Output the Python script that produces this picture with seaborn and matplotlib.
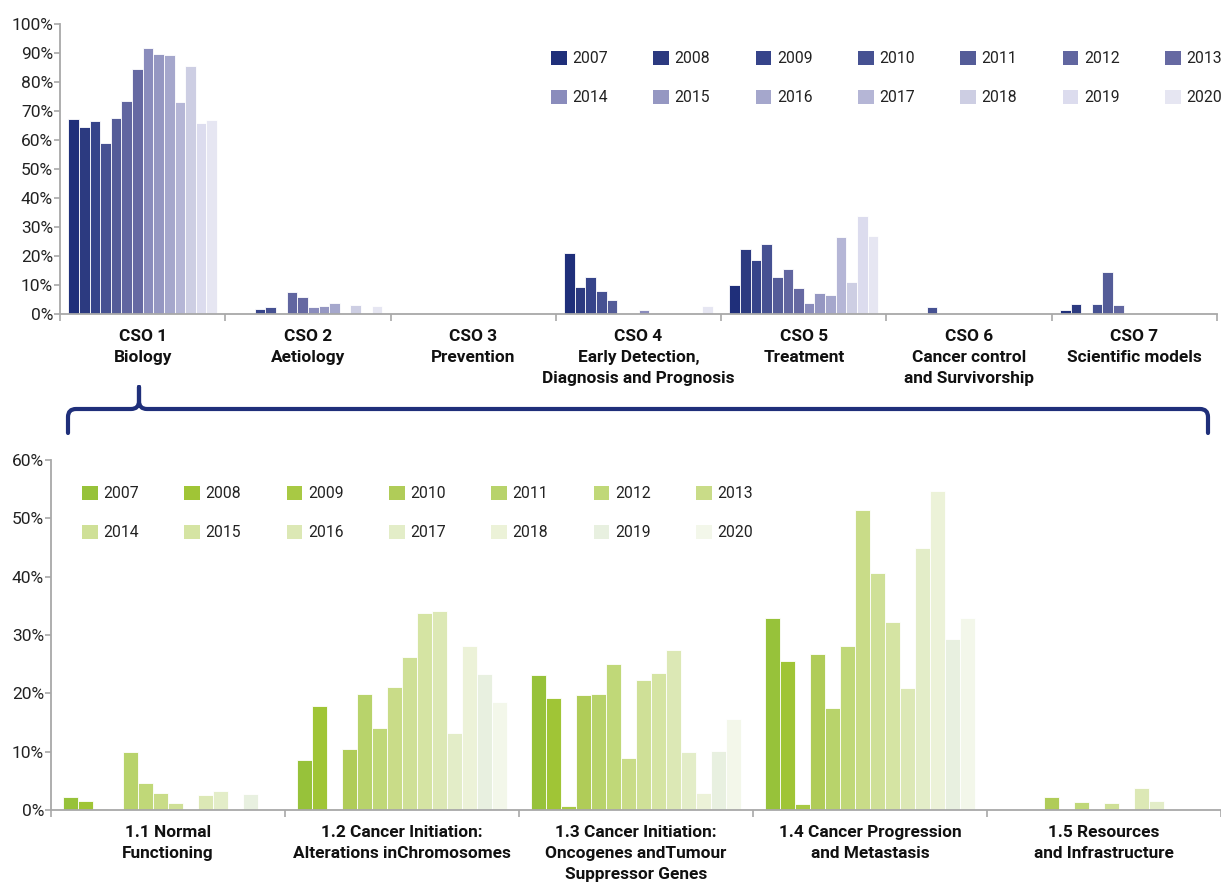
import numpy as np
import pandas as pd
import matplotlib
matplotlib.use('Agg')
import matplotlib.pyplot as plt
import seaborn as sns
from matplotlib.patches import Patch, PathPatch
from matplotlib.path import Path
from matplotlib.ticker import PercentFormatter

sns.set_theme(style='ticks')
plt.rcParams['font.family'] = ['Roboto', 'DejaVu Sans']

# ---- data -------------------------------------------------------------
years = [str(y) for y in range(2007, 2021)]

cso_labels = ['CSO 1\nBiology', 'CSO 2\nAetiology', 'CSO 3\nPrevention',
              'CSO 4\nEarly Detection,\nDiagnosis and Prognosis', 'CSO 5\nTreatment',
              'CSO 6\nCancer control\nand Survivorship', 'CSO 7\nScientific models']
cso1 = [67.3, 64.5, 66.4, 59.1, 67.5, 73.3, 84.6, 91.8, 89.5, 89.3, 73.1, 85.6, 65.9, 66.8]
cso2 = [0, 0, 1.7, 2.3, 0, 7.7, 6.0, 2.5, 2.9, 3.8, 0, 3.1, 0, 2.8]
cso3 = [0, 0, 0, 0, 0, 0, 0, 0, 0, 0, 0, 0, 0, 0]
cso4 = [21.1, 9.3, 12.8, 8.0, 4.9, 0, 0, 1.3, 0, 0, 0, 0, 0, 2.8]
cso5 = [9.9, 22.5, 18.5, 24.3, 12.6, 15.5, 9.1, 3.8, 7.2, 6.6, 26.6, 10.9, 33.7, 26.9]
cso6 = [0, 0, 0, 2.3, 0, 0, 0, 0, 0, 0, 0, 0, 0, 0]
cso7 = [1.3, 3.3, 0, 3.4, 14.5, 3.1, 0, 0, 0, 0, 0, 0, 0, 0]

bio_labels = ['1.1 Normal\nFunctioning', '1.2 Cancer Initiation:\nAlterations inChromosomes',
              '1.3 Cancer Initiation:\nOncogenes andTumour\nSuppressor Genes',
              '1.4 Cancer Progression\nand Metastasis', '1.5 Resources\nand Infrastructure']
bio11 = [2.3, 1.5, 0.2, 0, 9.9, 4.6, 2.9, 1.2, 0, 2.5, 3.3, 0, 2.8, 0]
bio12 = [8.6, 17.9, 0.2, 10.4, 19.9, 14.0, 21.1, 26.2, 33.8, 34.2, 13.2, 28.1, 23.4, 18.6]
bio13 = [23.1, 19.2, 0.7, 19.7, 19.9, 25.0, 9.0, 22.3, 23.5, 27.5, 9.9, 3.0, 10.2, 15.6]
bio14 = [32.9, 25.5, 1.1, 26.7, 17.5, 28.1, 51.5, 40.7, 32.3, 20.9, 45.0, 54.7, 29.3, 32.9]
bio15 = [0, 0, 0, 2.2, 0, 1.4, 0, 1.2, 0, 3.8, 1.5, 0, 0, 0]

blues = ['#1f2f7a', '#2c3a80', '#36448a', '#465192', '#545c98', '#6166a0', '#6669a2',
         '#8a8cbc', '#9597c2', '#a5a7cc', '#b5b6d6', '#cdcee3', '#dcdcee', '#e6e6f2']
greens = ['#97c23a', '#a0c536', '#a8c944', '#b0cc58', '#b8d36b', '#c0d878', '#c9dc88',
          '#cfe097', '#d5e4a3', '#dce8b5', '#e3edc8', '#ecf2d8', '#e8f0e0', '#f3f7ea']

top_df = pd.DataFrame({'cat': np.repeat(cso_labels, len(years)),
                       'year': years * len(cso_labels),
                       'value': np.concatenate([cso1, cso2, cso3, cso4, cso5, cso6, cso7])})
bot_df = pd.DataFrame({'cat': np.repeat(bio_labels, len(years)),
                       'year': years * len(bio_labels),
                       'value': np.concatenate([bio11, bio12, bio13, bio14, bio15])})

W, H = 1221, 884
fig = plt.figure(figsize=(W / 100, H / 100), dpi=100)
ax1 = fig.add_axes([60 / W, 1 - 314 / H, (1217 - 60) / W, 290 / H])
ax2 = fig.add_axes([51 / W, 1 - 810 / H, (1221 - 51) / W, 350 / H])

grey = '#a8a8a8'
txt = '#222222'


def draw(ax, df, cats, pal, ymax, step):
    sns.barplot(data=df, x='cat', y='value', hue='year', order=cats, hue_order=years,
                palette=pal, saturation=1, width=0.9, errorbar=None,
                edgecolor='white', linewidth=0.6, legend=False, ax=ax)
    ax.set_xlim(-0.5, len(cats) - 0.5)
    ax.set_ylim(0, ymax)
    ax.set_yticks(np.arange(0, ymax + 1, step))
    ax.yaxis.set_major_formatter(PercentFormatter(100, decimals=0))
    ax.set_xticks(np.arange(-0.5, len(cats)), minor=True)
    ax.set_xticks(np.arange(len(cats)))
    ax.set_xticklabels(cats, fontweight='bold', fontsize=12.4, linespacing=1.5, color='#111111')
    ax.tick_params(axis='x', which='major', length=0, pad=11)
    ax.tick_params(axis='x', which='minor', length=5, width=1.2, color=grey)
    ax.tick_params(axis='y', length=4, width=1.2, color=grey, labelsize=12.5, labelcolor=txt, pad=1)
    ax.set_xlabel('')
    ax.set_ylabel('')
    for s in ['top', 'right']:
        ax.spines[s].set_visible(False)
    for s in ['left', 'bottom']:
        ax.spines[s].set_color(grey)
        ax.spines[s].set_linewidth(1.3)


draw(ax1, top_df, cso_labels, blues, 100, 10)
draw(ax2, bot_df, bio_labels, greens, 60, 10)


def legend(pal, x, y):
    order = [i + r * 7 for i in range(7) for r in range(2)]
    handles = [Patch(facecolor=pal[i], edgecolor='none') for i in order]
    labels = [years[i] for i in order]
    fig.legend(handles, labels, ncol=7, loc='upper left', bbox_to_anchor=(x / W, 1 - y / H),
               frameon=False, fontsize=11.3, handlelength=1.0, handleheight=1.0,
               handletextpad=0.35, columnspacing=2.9, labelspacing=1.5,
               borderpad=0, borderaxespad=0, labelcolor=txt)


legend(blues, 551, 51)
legend(greens, 82, 486)

# brace linking CSO 1 to the lower panel
pts = [(68, 433), (68, 417), (68, 409), (76, 409), (131, 409), (139, 409), (139, 401),
       (139, 387), (139, 401), (139, 409), (147, 409), (1200, 409), (1208, 409),
       (1208, 417), (1208, 433)]
codes = [Path.MOVETO, Path.LINETO, Path.CURVE3, Path.CURVE3, Path.LINETO, Path.CURVE3,
         Path.CURVE3, Path.LINETO, Path.LINETO, Path.CURVE3, Path.CURVE3, Path.LINETO,
         Path.CURVE3, Path.CURVE3, Path.LINETO]
brace = Path([(px / W, 1 - py / H) for px, py in pts], codes)
fig.add_artist(PathPatch(brace, transform=fig.transFigure, fill=False, edgecolor='#1f2f7a',
                         linewidth=3.0, capstyle='round', joinstyle='round'))

fig.savefig('out.png', dpi=100)
